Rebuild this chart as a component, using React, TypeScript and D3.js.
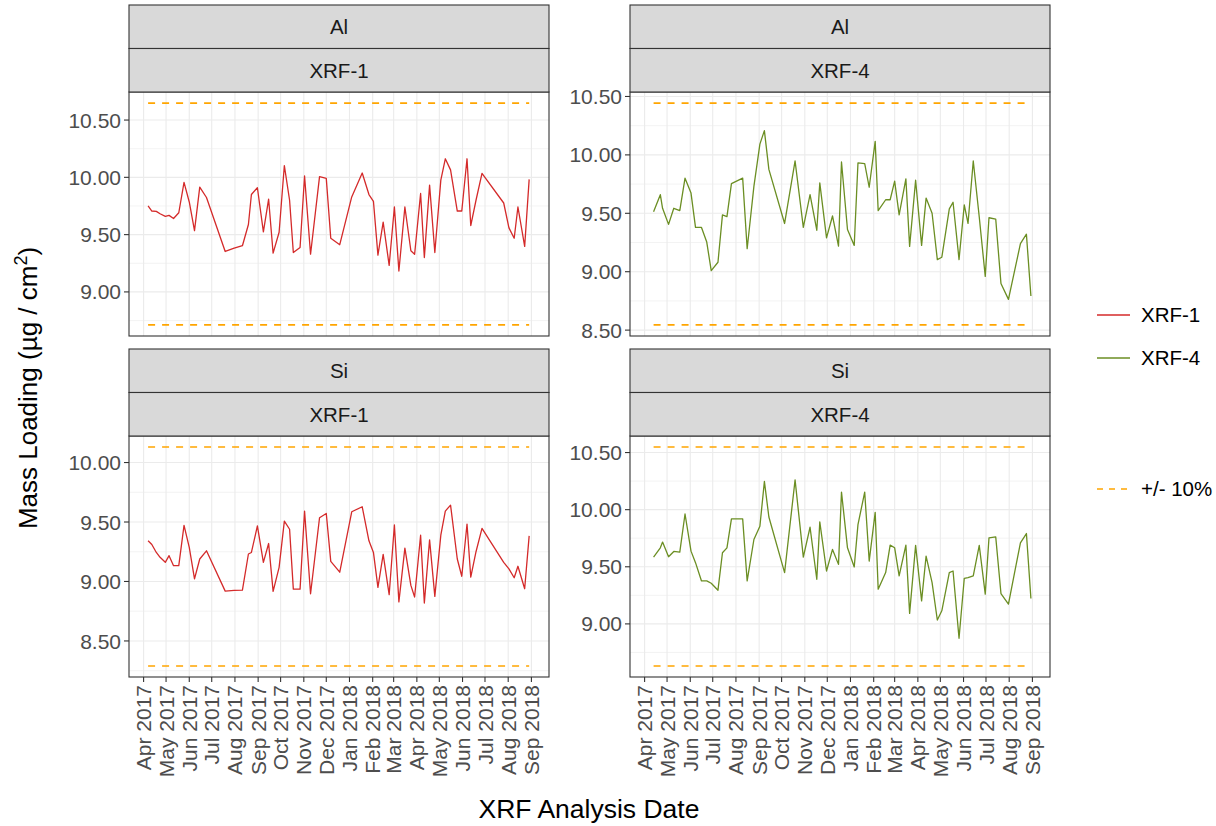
import * as d3 from 'd3'

// sample dates (shared by Al and Si for each instrument)
const xrf1Dates = [
  '2017-04-07', '2017-04-12', '2017-04-18', '2017-04-23', '2017-04-30', '2017-05-05', '2017-05-11', '2017-05-18',
  '2017-05-25', '2017-06-01', '2017-06-08', '2017-06-15', '2017-06-24', '2017-07-19', '2017-07-31', '2017-08-11',
  '2017-08-19', '2017-08-23', '2017-08-31', '2017-09-08', '2017-09-15', '2017-09-21', '2017-09-29', '2017-10-06',
  '2017-10-13', '2017-10-18', '2017-10-27', '2017-11-02', '2017-11-10', '2017-11-22', '2017-12-01', '2017-12-07',
  '2017-12-19', '2018-01-04', '2018-01-18', '2018-01-27', '2018-02-02', '2018-02-08', '2018-02-15', '2018-02-23',
  '2018-03-02', '2018-03-08', '2018-03-16', '2018-03-24', '2018-03-29', '2018-04-06', '2018-04-11', '2018-04-18',
  '2018-04-25', '2018-05-03', '2018-05-09', '2018-05-16', '2018-05-25', '2018-05-31', '2018-06-07', '2018-06-12',
  '2018-06-19', '2018-06-27', '2018-07-26', '2018-08-02', '2018-08-09', '2018-08-14', '2018-08-23', '2018-08-29',
]

const xrf4Dates = [
  '2017-04-13', '2017-04-22', '2017-04-25', '2017-05-03', '2017-05-10', '2017-05-18', '2017-05-25', '2017-06-02',
  '2017-06-08', '2017-06-16', '2017-06-23', '2017-06-29', '2017-07-08', '2017-07-14', '2017-07-20', '2017-07-26',
  '2017-08-10', '2017-08-16', '2017-08-25', '2017-09-02', '2017-09-08', '2017-09-14', '2017-10-05', '2017-10-19',
  '2017-10-30', '2017-11-08', '2017-11-17', '2017-11-21', '2017-11-30', '2017-12-08', '2017-12-16', '2017-12-20',
  '2017-12-28', '2018-01-06', '2018-01-11', '2018-01-20', '2018-01-26', '2018-02-03', '2018-02-07', '2018-02-17',
  '2018-02-23', '2018-03-01', '2018-03-07', '2018-03-16', '2018-03-21', '2018-03-29', '2018-04-06', '2018-04-12',
  '2018-04-20', '2018-04-27', '2018-05-03', '2018-05-13', '2018-05-18', '2018-05-26', '2018-06-02', '2018-06-07',
  '2018-06-14', '2018-06-22', '2018-06-30', '2018-07-05', '2018-07-14', '2018-07-21', '2018-07-31', '2018-08-16',
  '2018-08-24', '2018-08-30',
]

const alXrf1 = [
  9.75, 9.706, 9.703, 9.682, 9.659, 9.668, 9.641, 9.691, 9.956, 9.785, 9.535, 9.915, 9.824,
  9.353, 9.382, 9.403, 9.588, 9.85, 9.909, 9.524, 9.809, 9.338, 9.521, 10.103, 9.8, 9.344, 9.388, 10.012, 9.329,
  10.006, 9.991, 9.468, 9.412, 9.829, 10.038, 9.85, 9.791, 9.321, 9.609, 9.232, 9.741, 9.182, 9.741, 9.359, 9.329,
  9.859, 9.3, 9.932, 9.344, 9.976, 10.162, 10.065, 9.706, 9.706, 10.162, 9.579, 9.8, 10.035, 9.776, 9.559, 9.468,
  9.741, 9.397, 9.982,
]

const siXrf1 = [
  9.342, 9.311, 9.244, 9.203, 9.161, 9.217, 9.133, 9.133, 9.472, 9.286, 9.022, 9.189, 9.258,
  8.919, 8.925, 8.928, 9.231, 9.244, 9.467, 9.161, 9.319, 8.917, 9.119, 9.508, 9.439, 8.936, 8.936, 9.592, 8.897,
  9.536, 9.572, 9.169, 9.078, 9.586, 9.628, 9.342, 9.244, 8.95, 9.228, 8.889, 9.475, 8.828, 9.281, 8.967, 8.869,
  9.389, 8.819, 9.35, 8.875, 9.389, 9.592, 9.642, 9.189, 9.044, 9.483, 9.036, 9.25, 9.447, 9.161, 9.106, 9.031,
  9.128, 8.939, 9.383,
]

const alXrf4 = [
  9.514, 9.659, 9.543, 9.405, 9.543, 9.523, 9.801, 9.673, 9.379, 9.379,
  9.254, 9.009, 9.081, 9.486, 9.471, 9.754, 9.801, 9.197, 9.731, 10.092,
  10.208, 9.876, 9.413, 9.948, 9.379, 9.659, 9.355, 9.76, 9.289, 9.477,
  9.22, 9.939, 9.361, 9.225, 9.931, 9.925, 9.723, 10.116, 9.523, 9.616,
  9.616, 9.775, 9.486, 9.795, 9.217, 9.783, 9.225, 9.63, 9.5, 9.104,
  9.124, 9.538, 9.595, 9.104, 9.572, 9.413, 9.948, 9.468, 8.96, 9.462,
  9.451, 8.899, 8.763, 9.24, 9.321, 8.792,
]

const siXrf4 = [
  9.585, 9.666, 9.716, 9.588, 9.634, 9.629, 9.962, 9.637, 9.536, 9.376,
  9.376, 9.356, 9.295, 9.623, 9.666, 9.919, 9.919, 9.376, 9.739, 9.855,
  10.247, 9.936, 9.449, 10.261, 9.585, 9.846, 9.391, 9.893, 9.463, 9.652,
  9.521, 10.154, 9.666, 9.498, 9.869, 10.154, 9.55, 9.977, 9.304, 9.449,
  9.69, 9.666, 9.42, 9.69, 9.092, 9.687, 9.202, 9.594, 9.362, 9.034,
  9.115, 9.449, 9.463, 8.874, 9.399, 9.405, 9.42, 9.687, 9.26, 9.753,
  9.762, 9.266, 9.173, 9.71, 9.791, 9.223,
]

// reference mass loading, the dashed lines are +/- 10% of it
const refAl = [9.68, 9.494]
const refSi = [9.21, 9.59]

const monthLabels = [
  'Apr 2017', 'May 2017', 'Jun 2017', 'Jul 2017', 'Aug 2017', 'Sep 2017', 'Oct 2017', 'Nov 2017', 'Dec 2017',
  'Jan 2018', 'Feb 2018', 'Mar 2018', 'Apr 2018', 'May 2018', 'Jun 2018', 'Jul 2018', 'Aug 2018', 'Sep 2018',
]

const colors: any = { 'XRF-1': '#D42A2A', 'XRF-4': '#6B8E23' }
const bandColor = '#FFA500'
const font = '"Liberation Sans", Arial, sans-serif'

function App() {
  const width = 1216
  const height = 826
  const panelLeft = [129, 630]
  const panelW = 420
  const stripTop = [5, 349]
  const stripH = 43.5
  const plotBottom = [336, 677]
  const tickSize = 21

  const parse = d3.timeParse('%Y-%m-%d')
  const monthParse = d3.timeParse('%b %Y')
  const months = monthLabels.map(m => monthParse(m) as Date)

  const panels = [
    { el: 'Al', inst: 'XRF-1', dates: xrf1Dates, values: alXrf1, ref: refAl[0], col: 0, row: 0 },
    { el: 'Al', inst: 'XRF-4', dates: xrf4Dates, values: alXrf4, ref: refAl[1], col: 1, row: 0 },
    { el: 'Si', inst: 'XRF-1', dates: xrf1Dates, values: siXrf1, ref: refSi[0], col: 0, row: 1 },
    { el: 'Si', inst: 'XRF-4', dates: xrf4Dates, values: siXrf4, ref: refSi[1], col: 1, row: 1 },
  ]

  const allDates = [...xrf1Dates, ...xrf4Dates].map(d => (parse(d) as Date).getTime())
  const [t0, t1] = d3.extent(allDates) as [number, number]
  const pad = (t1 - t0) * 0.05
  const fmt = d3.format('.2f')

  return (
    <div>
      <svg width={width} height={height} style={{ position: 'absolute', left: 0, top: 0, fontFamily: font }}>
        <rect width={width} height={height} fill="white" />
        {panels.map((p, i) => {
          const x0 = panelLeft[p.col]
          const top = stripTop[p.row] + stripH * 2
          const bottom = plotBottom[p.row]
          const x = d3.scaleTime()
            .domain([new Date(t0 - pad), new Date(t1 + pad)])
            .range([x0, x0 + panelW])
          const hi = p.ref * 1.1
          const lo = p.ref * 0.9
          const ymin = Math.min(lo, d3.min(p.values) as number)
          const ymax = Math.max(hi, d3.max(p.values) as number)
          const ypad = (ymax - ymin) * 0.05
          const y = d3.scaleLinear().domain([ymin - ypad, ymax + ypad]).range([bottom, top])
          const ticks = y.ticks(5)
          const step = ticks[1] - ticks[0]
          const minor = d3.range(ticks[0] - step / 2, ymax + ypad, step).filter(v => v > ymin - ypad)
          const pts = p.dates.map((d, k) => [parse(d) as Date, p.values[k]] as [Date, number])
          const line = d3.line<[Date, number]>().x(d => x(d[0])).y(d => y(d[1]))
          const first = pts[0][0]
          const last = pts[pts.length - 1][0]

          return (
            <g key={i}>
              <rect x={x0} y={top} width={panelW} height={bottom - top} fill="white" />
              {minor.map(v => (
                <line key={'mn' + v} x1={x0} x2={x0 + panelW} y1={y(v)} y2={y(v)} stroke="#F0F0F0" strokeWidth={0.8} />
              ))}
              {months.map((m, k) => (
                <line key={'vx' + k} x1={x(m)} x2={x(m)} y1={top} y2={bottom} stroke="#EBEBEB" strokeWidth={1.1} />
              ))}
              {ticks.map(v => (
                <line key={'mj' + v} x1={x0} x2={x0 + panelW} y1={y(v)} y2={y(v)} stroke="#EBEBEB" strokeWidth={1.1} />
              ))}
              {[hi, lo].map((v, k) => (
                <line key={'b' + k} x1={x(first)} x2={x(last)} y1={y(v)} y2={y(v)}
                  stroke={bandColor} strokeWidth={1.6} strokeDasharray="7,7" />
              ))}
              <path d={line(pts) as string} fill="none" stroke={colors[p.inst]} strokeWidth={1.3} strokeLinejoin="round" />
              <rect x={x0} y={top} width={panelW} height={bottom - top} fill="none" stroke="#333333" strokeWidth={1.1} />

              {/* strips */}
              {[p.el, p.inst].map((s, k) => (
                <g key={'s' + k}>
                  <rect x={x0} y={stripTop[p.row] + k * stripH} width={panelW} height={stripH}
                    fill="#D9D9D9" stroke="#333333" strokeWidth={1.1} />
                  <text x={x0 + panelW / 2} y={stripTop[p.row] + k * stripH + stripH / 2} dy="0.36em"
                    textAnchor="middle" fontSize={20.5} fill="#1A1A1A">{s}</text>
                </g>
              ))}

              {/* y axis */}
              {ticks.map(v => (
                <g key={'yt' + v}>
                  <line x1={x0 - 5} x2={x0} y1={y(v)} y2={y(v)} stroke="#333333" strokeWidth={1.1} />
                  <text x={x0 - 8} y={y(v)} dy="0.36em" textAnchor="end" fontSize={tickSize} fill="#4D4D4D">{fmt(v)}</text>
                </g>
              ))}

              {/* x axis on bottom row */}
              {p.row === 1 && months.map((m, k) => (
                <g key={'xt' + k}>
                  <line x1={x(m)} x2={x(m)} y1={bottom} y2={bottom + 5} stroke="#333333" strokeWidth={1.1} />
                  <text transform={`translate(${x(m)},${bottom + 8}) rotate(-90)`} dy="0.36em"
                    textAnchor="end" fontSize={tickSize} fill="#4D4D4D">{monthLabels[k]}</text>
                </g>
              ))}
            </g>
          )
        })}

        <text x={589} y={818} textAnchor="middle" fontSize={26.5} fill="black">XRF Analysis Date</text>
        <text transform="translate(37,388) rotate(-90)" textAnchor="middle" fontSize={26} fill="black">
          Mass Loading (µg / cm<tspan fontSize={18} dy="-10">2</tspan><tspan dy="10">)</tspan>
        </text>

        {/* legend */}
        {['XRF-1', 'XRF-4'].map((s, k) => (
          <g key={'lg' + s}>
            <line x1={1097} x2={1130} y1={315 + k * 43} y2={315 + k * 43} stroke={colors[s]} strokeWidth={1.5} />
            <text x={1141} y={315 + k * 43} dy="0.36em" fontSize={20.5} fill="black">{s}</text>
          </g>
        ))}
        <line x1={1097} x2={1130} y1={489} y2={489} stroke={bandColor} strokeWidth={1.6} strokeDasharray="6,6" />
        <text x={1141} y={489} dy="0.36em" fontSize={20.5} fill="black">+/- 10%</text>
      </svg>
    </div>
  )
}

export default App
